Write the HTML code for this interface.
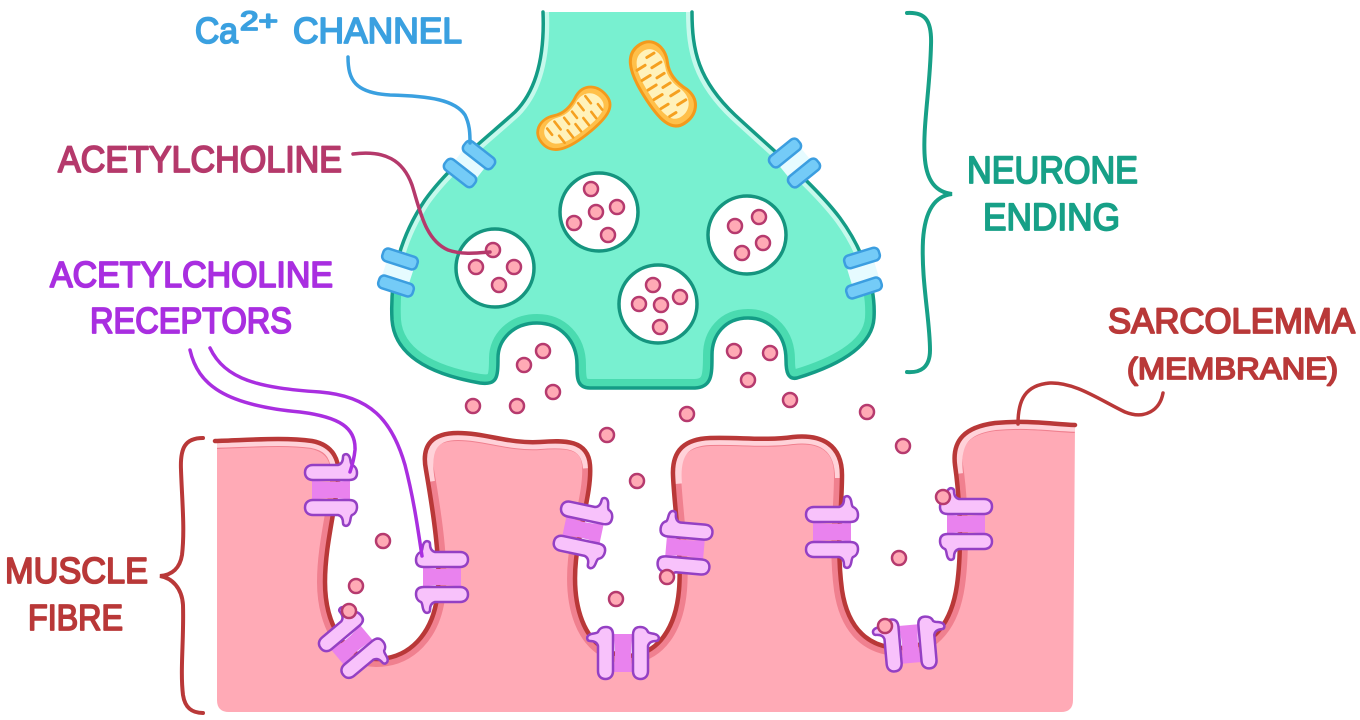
<!DOCTYPE html>
<html><head><meta charset="utf-8"><style>
html,body{margin:0;padding:0;background:#fff;}
svg{display:block;}
text{font-family:"Liberation Sans",sans-serif;stroke-linejoin:round;}
</style></head><body>
<svg width="1360" height="720" viewBox="0 0 1360 720" xmlns="http://www.w3.org/2000/svg">
<defs>
  <clipPath id="nclip"><path d="M 543 12 L 692 12 C 692 50, 698 80, 735 115 C 775 152, 815 185, 840 218 C 862 248, 876 285, 874 318 C 872 350, 830 368, 797 378 C 788 380, 786 372, 786 360 C 786 335, 770 318, 748 318 C 725 318, 712 335, 712 355 C 712 375, 712 387, 695 388 L 590 388 C 577 388, 577 378, 577 365 C 577 340, 560 323, 537 323 C 513 323, 498 340, 498 358 C 498 378, 497 385, 480 383 C 440 376, 395 360, 392 320 C 390 280, 398 240, 425 200 C 450 165, 490 135, 515 112 C 535 92, 545 60, 543 12 Z"/></clipPath>
  <clipPath id="lowclip"><rect x="300" y="292" width="700" height="200"/></clipPath>
  <clipPath id="upclip"><rect x="300" y="0" width="700" height="262"/></clipPath>
  <clipPath id="mclip"><path d="M 215 441 C 250 440, 285 437, 312 441 C 333 445, 341 460, 338 482 C 334 515, 325 548, 325 582 C 325 628, 348 659, 376 659 C 410 659, 432 633, 437 598 C 442 565, 432 505, 426 470 C 421 445, 432 433, 458 433 C 485 433, 510 444, 540 442 C 565 440, 588 440, 590 465 C 592 490, 580 525, 576 560 C 572 600, 580 650, 625 656 C 660 656, 676 625, 679 590 C 682 555, 674 505, 673 475 C 672 450, 685 439, 710 438 C 740 437, 765 441, 793 437 C 822 434, 842 445, 842 475 C 842 510, 836 545, 842 590 C 848 630, 870 648, 900 648 C 935 648, 952 620, 957 585 C 962 550, 960 500, 955 465 C 952 440, 965 427, 995 423 C 1030 420, 1050 424, 1075 425 L 1073 700 Q 1073 712 1061 712 L 229 712 Q 217 712 217 700 L 217 441 Z"/></clipPath>
  <g id="rec">
    <path d="M -19 -10 Q 0 -6 19 -10 L 19 10 Q 0 6 -19 10 Z" fill="#e982ee"/>
    <path id="cap" d="M -18 -25 L 7 -25 C 11 -26 12 -29 12 -33 C 12 -36 16 -37 18 -34 C 20 -31 19 -27 21 -25 C 24 -24 26 -21 26 -17 C 26 -12 23 -10 18 -10 L -18 -10 C -23 -10 -26 -13 -26 -17.5 C -26 -22 -23 -25 -18 -25 Z" fill="#f8c2fb" stroke="#9440c4" stroke-width="2.5" stroke-linejoin="round"/>
    <use href="#cap" transform="scale(1,-1)"/>
  </g>
  <g id="chan">
    <rect x="-18" y="-6.5" width="36" height="13" rx="5" fill="#74cbf7" stroke="#3c9ee0" stroke-width="2.5"/>
  </g>
  <g id="mito">
    <path d="M -40 -2 C -40 -16 -26 -21 -14 -15 C -4 -10 6 -12 16 -17 C 30 -22 40 -12 40 2 C 40 16 26 20 0 20 C -26 20 -40 14 -40 -2 Z" fill="#ffc04a" stroke="#f39a1c" stroke-width="2.8"/>
    <path transform="scale(0.84,0.74)" d="M -40 -2 C -40 -16 -26 -21 -14 -15 C -4 -10 6 -12 16 -17 C 30 -22 40 -12 40 2 C 40 16 26 20 0 20 C -26 20 -40 14 -40 -2 Z" fill="#fff2bb"/>
    <g stroke="#f5a020" stroke-width="2.6" stroke-linecap="round">
      <path d="M -27 -9 L -27 -1 M -17 -10 L -17 0 M -7 -7 L -7 1 M 3 -7 L 3 1 M 13 -10 L 13 -1 M 23 -11 L 23 -2 M -22 13 L -22 4 M -12 14 L -12 5 M -2 14 L -2 5 M 8 14 L 8 5 M 18 13 L 18 5 M 28 10 L 28 3"/>
    </g>
  </g>
  <g id="dot"><circle r="7" fill="#ffaab5" stroke="#b63a6e" stroke-width="2.5"/></g>
</defs>

<!-- Neuron ending -->
<path d="M 543 12 L 692 12 C 692 50, 698 80, 735 115 C 775 152, 815 185, 840 218 C 862 248, 876 285, 874 318 C 872 350, 830 368, 797 378 C 788 380, 786 372, 786 360 C 786 335, 770 318, 748 318 C 725 318, 712 335, 712 355 C 712 375, 712 387, 695 388 L 590 388 C 577 388, 577 378, 577 365 C 577 340, 560 323, 537 323 C 513 323, 498 340, 498 358 C 498 378, 497 385, 480 383 C 440 376, 395 360, 392 320 C 390 280, 398 240, 425 200 C 450 165, 490 135, 515 112 C 535 92, 545 60, 543 12 Z" fill="#78f0d0"/>
<g clip-path="url(#nclip)"><g clip-path="url(#lowclip)">
<path d="M 692 12 C 692 50, 698 80, 735 115 C 775 152, 815 185, 840 218 C 862 248, 876 285, 874 318 C 872 350, 830 368, 797 378 C 788 380, 786 372, 786 360 C 786 335, 770 318, 748 318 C 725 318, 712 335, 712 355 C 712 375, 712 387, 695 388 L 590 388 C 577 388, 577 378, 577 365 C 577 340, 560 323, 537 323 C 513 323, 498 340, 498 358 C 498 378, 497 385, 480 383 C 440 376, 395 360, 392 320 C 390 280, 398 240, 425 200 C 450 165, 490 135, 515 112 C 535 92, 545 60, 543 12" fill="none" stroke="#4adbb0" stroke-width="18"/>
</g></g>
<g clip-path="url(#nclip)"><g clip-path="url(#upclip)">
<path d="M 692 12 C 692 50, 698 80, 735 115 C 775 152, 815 185, 840 218 C 862 248, 876 285, 874 318 M 392 320 C 390 280, 398 240, 425 200 C 450 165, 490 135, 515 112 C 535 92, 545 60, 543 12" fill="none" stroke="#c6f9ec" stroke-width="12"/>
</g></g>
<path d="M 692 12 C 692 50, 698 80, 735 115 C 775 152, 815 185, 840 218 C 862 248, 876 285, 874 318 C 872 350, 830 368, 797 378 C 788 380, 786 372, 786 360 C 786 335, 770 318, 748 318 C 725 318, 712 335, 712 355 C 712 375, 712 387, 695 388 L 590 388 C 577 388, 577 378, 577 365 C 577 340, 560 323, 537 323 C 513 323, 498 340, 498 358 C 498 378, 497 385, 480 383 C 440 376, 395 360, 392 320 C 390 280, 398 240, 425 200 C 450 165, 490 135, 515 112 C 535 92, 545 60, 543 12" fill="none" stroke="#149c86" stroke-width="3.5" stroke-linecap="round" stroke-linejoin="round"/>

<!-- mitochondria -->
<use href="#mito" transform="translate(574,119) rotate(-38)"/>
<use href="#mito" transform="translate(662,84) rotate(58) scale(1.13,1.08)"/>

<!-- vesicles -->
<g fill="#fff" stroke="#15957f" stroke-width="3.5">
<circle cx="495" cy="268" r="39"/>
<circle cx="599" cy="212" r="39"/>
<circle cx="747" cy="235" r="39"/>
<circle cx="658" cy="304" r="39"/>
</g>
<g>
<use href="#dot" x="493" y="250"/><use href="#dot" x="476" y="267"/><use href="#dot" x="514" y="267"/><use href="#dot" x="499" y="285"/>
<use href="#dot" x="591" y="189"/><use href="#dot" x="617" y="207"/><use href="#dot" x="596" y="212"/><use href="#dot" x="574" y="223"/><use href="#dot" x="608" y="235"/>
<use href="#dot" x="759" y="217"/><use href="#dot" x="735" y="226"/><use href="#dot" x="763" y="243"/><use href="#dot" x="742" y="253"/>
<use href="#dot" x="653" y="285"/><use href="#dot" x="680" y="297"/><use href="#dot" x="639" y="304"/><use href="#dot" x="661" y="305"/><use href="#dot" x="660" y="327"/>
</g>

<!-- Ca channels -->
<g fill="#e6fbff">
<rect x="-14" y="-8" width="28" height="16" transform="translate(470,164) rotate(38)"/>
<rect x="-14" y="-8" width="28" height="16" transform="translate(398,272) rotate(18)"/>
<rect x="-14" y="-8" width="28" height="16" transform="translate(795,163) rotate(-39)"/>
<rect x="-14" y="-8" width="28" height="16" transform="translate(863,273) rotate(-17)"/>
</g>
<use href="#chan" transform="translate(479,155) rotate(38)"/>
<use href="#chan" transform="translate(460,173) rotate(38)"/>
<use href="#chan" transform="translate(400,259) rotate(18)"/>
<use href="#chan" transform="translate(396,286) rotate(18)"/>
<use href="#chan" transform="translate(785,153) rotate(-39)"/>
<use href="#chan" transform="translate(804,173) rotate(-39)"/>
<use href="#chan" transform="translate(862,258) rotate(-17)"/>
<use href="#chan" transform="translate(864,288) rotate(-18)"/>

<!-- Muscle fibre -->
<path d="M 215 441 C 250 440, 285 437, 312 441 C 333 445, 341 460, 338 482 C 334 515, 325 548, 325 582 C 325 628, 348 659, 376 659 C 410 659, 432 633, 437 598 C 442 565, 432 505, 426 470 C 421 445, 432 433, 458 433 C 485 433, 510 444, 540 442 C 565 440, 588 440, 590 465 C 592 490, 580 525, 576 560 C 572 600, 580 650, 625 656 C 660 656, 676 625, 679 590 C 682 555, 674 505, 673 475 C 672 450, 685 439, 710 438 C 740 437, 765 441, 793 437 C 822 434, 842 445, 842 475 C 842 510, 836 545, 842 590 C 848 630, 870 648, 900 648 C 935 648, 952 620, 957 585 C 962 550, 960 500, 955 465 C 952 440, 965 427, 995 423 C 1030 420, 1050 424, 1075 425 L 1073 700 Q 1073 712 1061 712 L 229 712 Q 217 712 217 700 L 217 441 Z" fill="#ffaab6"/>
<g clip-path="url(#mclip)">
<path d="M 215 441 C 250 440, 285 437, 312 441 C 333 445, 341 460, 338 482 C 334 515, 325 548, 325 582 C 325 628, 348 659, 376 659 C 410 659, 432 633, 437 598 C 442 565, 432 505, 426 470 C 421 445, 432 433, 458 433 C 485 433, 510 444, 540 442 C 565 440, 588 440, 590 465 C 592 490, 580 525, 576 560 C 572 600, 580 650, 625 656 C 660 656, 676 625, 679 590 C 682 555, 674 505, 673 475 C 672 450, 685 439, 710 438 C 740 437, 765 441, 793 437 C 822 434, 842 445, 842 475 C 842 510, 836 545, 842 590 C 848 630, 870 648, 900 648 C 935 648, 952 620, 957 585 C 962 550, 960 500, 955 465 C 952 440, 965 427, 995 423 C 1030 420, 1050 424, 1075 425" fill="none" stroke="#f0808f" stroke-width="16"/>
<g fill="none" stroke="#ffd2d9" stroke-width="14">
<path d="M 210 441 C 250 440, 285 437, 312 441 C 328 444, 336 452, 338 468"/>
<path d="M 428 482 C 422 447, 432 433, 458 433 C 485 433, 510 444, 540 442 C 565 440, 588 440, 590 468"/>
<path d="M 675 484 C 672 450, 685 439, 710 438 C 740 437, 765 441, 793 437 C 822 434, 842 445, 842 478"/>
<path d="M 956 474 C 952 440, 965 427, 995 423 C 1030 420, 1050 424, 1080 425"/>
</g>
</g>
<path d="M 215 441 C 250 440, 285 437, 312 441 C 333 445, 341 460, 338 482 C 334 515, 325 548, 325 582 C 325 628, 348 659, 376 659 C 410 659, 432 633, 437 598 C 442 565, 432 505, 426 470 C 421 445, 432 433, 458 433 C 485 433, 510 444, 540 442 C 565 440, 588 440, 590 465 C 592 490, 580 525, 576 560 C 572 600, 580 650, 625 656 C 660 656, 676 625, 679 590 C 682 555, 674 505, 673 475 C 672 450, 685 439, 710 438 C 740 437, 765 441, 793 437 C 822 434, 842 445, 842 475 C 842 510, 836 545, 842 590 C 848 630, 870 648, 900 648 C 935 648, 952 620, 957 585 C 962 550, 960 500, 955 465 C 952 440, 965 427, 995 423 C 1030 420, 1050 424, 1075 425" fill="none" stroke="#b93838" stroke-width="4.5" stroke-linecap="round" stroke-linejoin="round"/>

<!-- receptors -->
<use href="#rec" transform="translate(331,490)"/>
<use href="#rec" transform="translate(352,645) rotate(-40)"/>
<use href="#rec" transform="translate(442,577) scale(-1,1)"/>
<use href="#rec" transform="translate(583,530) rotate(12)"/>
<use href="#rec" transform="translate(623,653) rotate(-90)"/>
<use href="#rec" transform="translate(685,548) scale(-1,1) rotate(-5)"/>
<use href="#rec" transform="translate(832,532)"/>
<use href="#rec" transform="translate(910,644) rotate(-95)"/>
<use href="#rec" transform="translate(966,524) scale(-1,1)"/>

<!-- cleft dots -->
<g>
<use href="#dot" x="543" y="351"/><use href="#dot" x="524" y="365"/><use href="#dot" x="553" y="392"/>
<use href="#dot" x="473" y="406"/><use href="#dot" x="517" y="406"/><use href="#dot" x="607" y="435"/>
<use href="#dot" x="637" y="481"/><use href="#dot" x="687" y="414"/><use href="#dot" x="734" y="351"/>
<use href="#dot" x="770" y="353"/><use href="#dot" x="748" y="380"/><use href="#dot" x="790" y="400"/>
<use href="#dot" x="867" y="412"/><use href="#dot" x="903" y="446"/><use href="#dot" x="943" y="497"/>
<use href="#dot" x="899" y="558"/><use href="#dot" x="885" y="626"/><use href="#dot" x="383" y="541"/>
<use href="#dot" x="356" y="586"/><use href="#dot" x="349" y="611"/><use href="#dot" x="616" y="599"/>
<use href="#dot" x="667" y="577"/>
</g>

<!-- leader lines -->
<g fill="none" stroke-width="3.5" stroke-linecap="round">
<path d="M 348 57 C 348 80, 355 93, 390 95 C 430 96, 455 100, 465 115 C 470 125, 470 135, 470 143" stroke="#3aa0e0"/>
<path d="M 353 154 C 385 150, 403 160, 412 185 C 420 210, 425 240, 448 250 C 462 255, 478 253, 490 252" stroke="#b5396b"/>
<path d="M 190 350 C 198 385, 225 405, 300 412 C 340 417, 356 428, 355 450 C 354 460, 352 466, 350 472" stroke="#a92ee0"/>
<path d="M 210 348 C 225 380, 260 388, 320 392 C 370 396, 392 420, 405 465 C 414 500, 418 530, 422 556" stroke="#a92ee0"/>
<path d="M 1018 424 C 1018 400, 1025 385, 1050 383 C 1075 382, 1100 400, 1125 412 C 1145 420, 1160 410, 1163 393" stroke="#b93838"/>
<path d="M 907 13 C 925 12, 932 20, 931 45 C 930 90, 922 130, 925 160 C 927 180, 935 192, 952 194 C 935 196, 925 210, 923 240 C 921 280, 930 320, 930 350 C 930 368, 920 373, 907 372" stroke="#17a087" stroke-width="4"/>
<path d="M 203 438 C 185 438, 180 448, 181 470 C 182 500, 185 530, 182 555 C 180 568, 172 575, 160 576 C 172 578, 182 588, 183 605 C 184 640, 180 670, 183 695 C 185 708, 192 713, 203 713" stroke="#b93838" stroke-width="4"/>
</g>

<!-- labels -->
<g stroke-width="1.8">
<text x="195" y="43" font-size="36" fill="#3aa0e0" stroke="#3aa0e0" textLength="43" lengthAdjust="spacingAndGlyphs">Ca</text>
<text x="240" y="30" font-size="27" fill="#3aa0e0" stroke="#3aa0e0" textLength="38" lengthAdjust="spacingAndGlyphs">2+</text>
<text x="293" y="43" font-size="36" fill="#3aa0e0" stroke="#3aa0e0" textLength="169" lengthAdjust="spacingAndGlyphs">CHANNEL</text>
<text x="58" y="172" font-size="37" fill="#b5396b" stroke="#b5396b" textLength="284" lengthAdjust="spacingAndGlyphs">ACETYLCHOLINE</text>
<text x="50" y="287" font-size="36" fill="#a92ee0" stroke="#a92ee0" textLength="283" lengthAdjust="spacingAndGlyphs">ACETYLCHOLINE</text>
<text x="90" y="333" font-size="36" fill="#a92ee0" stroke="#a92ee0" textLength="202" lengthAdjust="spacingAndGlyphs">RECEPTORS</text>
<text x="967" y="183" font-size="38" fill="#17a087" stroke="#17a087" textLength="171" lengthAdjust="spacingAndGlyphs">NEURONE</text>
<text x="983" y="230" font-size="38" fill="#17a087" stroke="#17a087" textLength="137" lengthAdjust="spacingAndGlyphs">ENDING</text>
<text x="1108" y="333" font-size="35" fill="#b93838" stroke="#b93838" textLength="247" lengthAdjust="spacingAndGlyphs">SARCOLEMMA</text>
<text x="1127" y="379" font-size="31" fill="#b93838" stroke="#b93838" textLength="211" lengthAdjust="spacingAndGlyphs">(MEMBRANE)</text>
<text x="5" y="583" font-size="36" fill="#b93838" stroke="#b93838" textLength="143" lengthAdjust="spacingAndGlyphs">MUSCLE</text>
<text x="28" y="630" font-size="36" fill="#b93838" stroke="#b93838" textLength="95" lengthAdjust="spacingAndGlyphs">FIBRE</text>
</g>
</svg>
</body></html>
